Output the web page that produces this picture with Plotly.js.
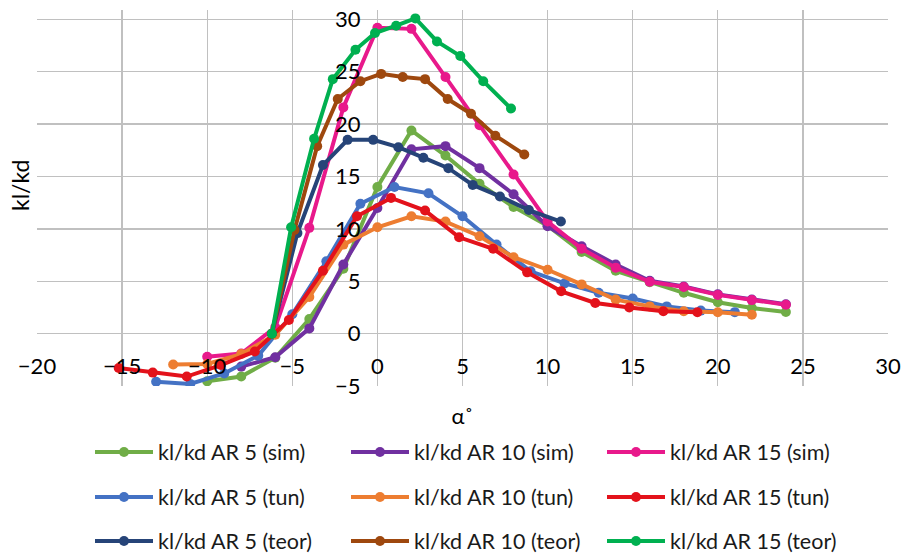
<!DOCTYPE html>
<html>
<head>
<meta charset="utf-8">
<script src="https://cdn.plot.ly/plotly-3.0.1.min.js"></script>
<style>html,body{margin:0;padding:0;background:#fff;}#chart{width:905px;height:553px;}</style>
</head>
<body>
<div id="chart"></div>
<script>
// ---- data ----
const alphaAR5sim  = [-10,-8,-6,-4,-2,0,2,4,6,8,10,12,14,16,18,20,22,24];
const klkdAR5sim   = [-4.55,-4.1,-2.3,1.4,6.2,14.0,19.4,17.0,14.3,12.1,10.3,7.8,6.0,4.9,3.9,3.0,2.45,2.07];

const alphaAR10sim = [-8,-6,-4,-2,0,2,4,6,8,10,12,14,16,18,20,22,24];
const klkdAR10sim  = [-3.15,-2.25,0.5,6.6,12.0,17.6,17.9,15.8,13.3,10.25,8.35,6.6,5.05,4.5,3.75,3.25,2.8];

const alphaAR15sim = [-10,-8,-6,-4,-2,0,2,4,6,8,10,12,14,16,18,20,22,24];
const klkdAR15sim  = [-2.2,-1.9,0.6,10.1,21.6,29.2,29.1,24.5,19.9,15.2,10.7,8.1,6.3,4.95,4.45,3.7,3.2,2.75];

const alphaAR5tun  = [-13,-11,-9,-7,-5,-3,-1,1,3,5,7,9,11,13,15,17,19,21];
const klkdAR5tun   = [-4.6,-4.8,-3.8,-2.1,1.85,6.9,12.4,14.0,13.4,11.2,8.5,5.95,4.8,3.9,3.35,2.6,2.2,2.05];

const alphaAR10tun = [-12,-10,-8,-6,-4,-2,0,2,4,6,8,10,12,14,16,18,20,22];
const klkdAR10tun  = [-2.95,-2.9,-1.95,-0.1,3.5,8.5,10.15,11.2,10.7,9.3,7.3,6.1,4.7,3.25,2.6,2.13,2.04,1.8];

const alphaAR15tun = [-15.2,-13.2,-11.2,-9.2,-7.2,-5.2,-3.2,-1.2,0.8,2.8,4.8,6.8,8.8,10.8,12.8,14.8,16.8,18.8];
const klkdAR15tun  = [-3.28,-3.72,-4.1,-3.0,-1.7,1.3,6.0,11.2,12.96,11.75,9.2,8.1,5.85,4.04,2.93,2.5,2.13,2.04];

const alphaAR5teor  = [-6.2,-4.7,-3.2,-1.75,-0.25,1.23,2.7,4.17,5.6,7.2,8.9,10.78];
const klkdAR5teor   = [0,9.6,16.1,18.5,18.5,17.8,16.8,15.8,14.2,13.1,11.8,10.7];

const alphaAR10teor = [-6.2,-4.87,-3.54,-2.33,-1.0,0.22,1.49,2.8,4.13,5.5,6.93,8.63];
const klkdAR10teor  = [0,9.9,17.9,22.4,24.1,24.8,24.5,24.3,22.4,21.0,18.9,17.1];

const alphaAR15teor = [-6.2,-5.07,-3.72,-2.62,-1.29,-0.14,1.1,2.23,3.5,4.87,6.22,7.85];
const klkdAR15teor  = [0,10.15,18.6,24.3,27.1,28.7,29.4,30.1,27.9,26.5,24.1,21.5];

const seriesNames = [
  'kl/kd AR 5 (sim)','kl/kd AR 10 (sim)','kl/kd AR 15 (sim)',
  'kl/kd AR 5 (tun)','kl/kd AR 10 (tun)','kl/kd AR 15 (tun)',
  'kl/kd AR 5 (teor)','kl/kd AR 10 (teor)','kl/kd AR 15 (teor)'
];
const xTickVals = [-20,-15,-10,-5,0,5,10,15,20,25,30];
const yTickVals = [-5,0,5,10,15,20,25,30];

// ---- styling ----
const colors = ['#70AD47','#7030A0','#E8198B','#4472C4','#ED7D31','#E3121B','#264478','#9E480E','#00B050'];
const xs = [alphaAR5sim,alphaAR10sim,alphaAR15sim,alphaAR5tun,alphaAR10tun,alphaAR15tun,alphaAR5teor,alphaAR10teor,alphaAR15teor];
const ys = [klkdAR5sim,klkdAR10sim,klkdAR15sim,klkdAR5tun,klkdAR10tun,klkdAR15tun,klkdAR5teor,klkdAR10teor,klkdAR15teor];
const legendIds = ['legend','legend','legend','legend2','legend2','legend2','legend3','legend3','legend3'];

const FONT = 'Lato, "Open Sans", sans-serif';
const traces = xs.map((x,i)=>({
  type:'scatter', mode:'lines+markers', x:x, y:ys[i], name:seriesNames[i],
  line:{color:colors[i], width:4}, marker:{color:colors[i], size:10},
  legend:legendIds[i], hoverinfo:'x+y+name'
}));

// plot area: x 37..888 px, y 10..386 px
const plotL = 37, plotR = 888, plotT = 10, plotB = 386;
const W = 905, H = 553;
const pw = plotR-plotL, ph = plotB-plotT;
const px2fx = p => (p-plotL)/pw;
const py2fy = p => (plotB-p)/ph;

function legendAt(rowY){
  return {orientation:'h', xref:'container', yref:'container', x:90/W, xanchor:'left', y:1-rowY/H, yanchor:'middle',
    font:{family:FONT, size:21.5, color:'#1a1a1a'}, itemwidth:58, entrywidth:183, entrywidthmode:'pixels',
    bgcolor:'rgba(0,0,0,0)', borderwidth:0, traceorder:'normal'};
}

const layout = {
  width:W, height:H,
  margin:{l:plotL, r:W-plotR, t:plotT, b:H-plotB, pad:0, autoexpand:false},
  paper_bgcolor:'#ffffff', plot_bgcolor:'#ffffff',
  font:{family:FONT, size:22, color:'#000'},
  showlegend:true,
  xaxis:{range:[-20,30], tickvals:xTickVals, ticks:'', showgrid:true, gridcolor:'#c0c0c0', gridwidth:1.4,
    zeroline:false, showline:false, anchor:'free', position:py2fy(351),
    tickfont:{family:FONT, size:22, color:'#000'},
    title:{text:'α˚', font:{family:FONT, size:22, color:'#000'}, standoff:30}},
  yaxis:{range:[-5,30.9], tickvals:yTickVals, ticks:'', showgrid:true, gridcolor:'#c0c0c0', gridwidth:1.4,
    zeroline:false, showline:false, anchor:'free', position:px2fx(360.5),
    tickfont:{family:FONT, size:22, color:'#000'}},
  annotations:[{text:'kl/kd', xref:'paper', yref:'paper', x:px2fx(20), y:py2fy(185), xanchor:'center', yanchor:'middle',
    textangle:-90, showarrow:false, font:{family:FONT, size:23, color:'#000'}}],
  legend:legendAt(452), legend2:legendAt(497), legend3:legendAt(541)
};

Plotly.newPlot('chart', traces, layout, {displayModeBar:false, staticPlot:true});
</script>
</body>
</html>
